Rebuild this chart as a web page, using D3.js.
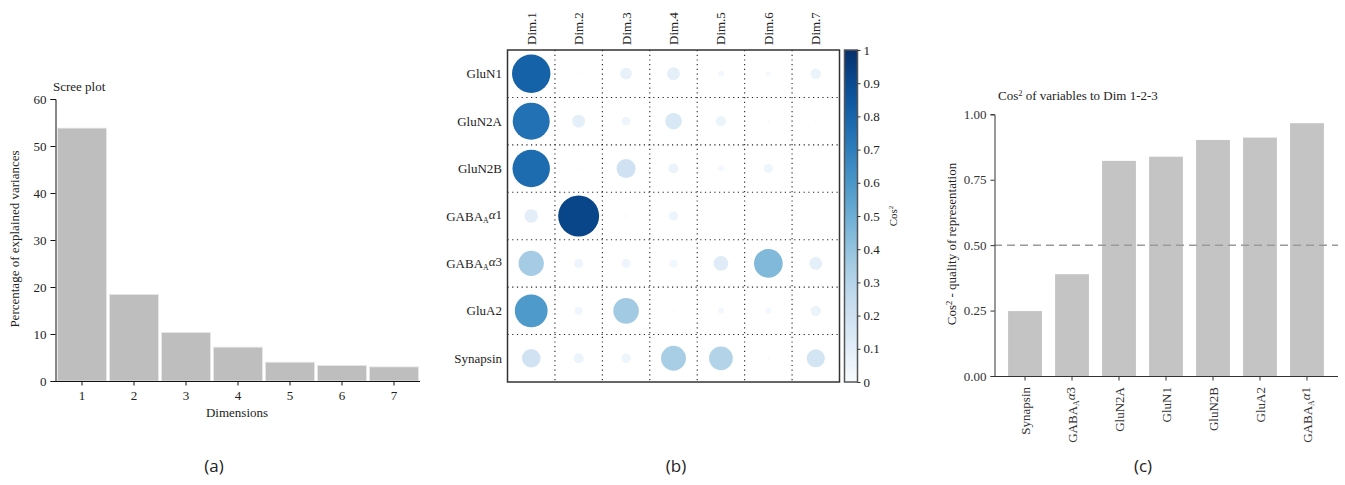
<!DOCTYPE html>
<html>
<head>
<meta charset="utf-8">
<script src="https://cdn.jsdelivr.net/npm/d3@7"></script>
<style>
    body { margin: 0; background: #fff; }
    svg text { font-family: "Liberation Serif", "DejaVu Serif", serif; }
    .panel-tag { font-family: "Open Sans", "Liberation Sans", sans-serif !important; }
</style>
</head>
<body>
<svg id="fig" width="1345" height="485"></svg>
<script>
// ---- data ----
const screeDims = ["1", "2", "3", "4", "5", "6", "7"];
const screeValues = [53.8, 18.4, 10.3, 7.2, 4.0, 3.3, 3.0];

const corrVars = ["GluN1", "GluN2A", "GluN2B", "GABAAα1", "GABAAα3", "GluA2", "Synapsin"];
const corrDims = ["Dim.1", "Dim.2", "Dim.3", "Dim.4", "Dim.5", "Dim.6", "Dim.7"];
const cos2GluN1 = [0.81, 0.003, 0.075, 0.09, 0.02, 0.014, 0.06];
const cos2GluN2A = [0.75, 0.09, 0.044, 0.15, 0.058, 0.003, 0.003];
const cos2GluN2B = [0.77, 0.003, 0.2, 0.055, 0.02, 0.047, 0.003];
const cos2GABAa1 = [0.1, 0.92, 0.005, 0.05, 0.003, 0.003, 0.003];
const cos2GABAa3 = [0.35, 0.047, 0.047, 0.035, 0.12, 0.45, 0.09];
const cos2GluA2 = [0.59, 0.038, 0.36, 0.003, 0.02, 0.02, 0.06];
const cos2Synapsin = [0.19, 0.055, 0.05, 0.34, 0.31, 0.005, 0.18];
const colorbarTicks = [0, 0.1, 0.2, 0.3, 0.4, 0.5, 0.6, 0.7, 0.8, 0.9, 1];

const qualityVars = ["Synapsin", "GABAAα3", "GluN2A", "GluN1", "GluN2B", "GluA2", "GABAAα1"];
const qualityValues = [0.248, 0.389, 0.822, 0.838, 0.902, 0.911, 0.966];
const qualityTicks = [0, 0.25, 0.5, 0.75, 1];

let svg = d3.select("#fig");

// writes "GABA_A α1" style names with a subscript A and italic alpha
function varLabel(sel, name) {
    if (name.startsWith("GABAA")) {
        sel.append("tspan").text("GABA");
        sel.append("tspan").attr("font-size", "0.6em").attr("dy", "0.3em").text("A");
        sel.append("tspan").attr("dy", "-0.3em").attr("font-style", "italic").text("α");
        sel.append("tspan").text(name.slice(6));
    } else {
        sel.text(name);
    }
}

// ================= (a) scree plot =================
let xa = d3.scaleBand().domain(screeDims).range([56, 420]).paddingInner(0.06).paddingOuter(0.03);
let ya = d3.scaleLinear().domain([0, 60]).range([381, 99]);
let ga = svg.append("g");

ga.selectAll("rect.scree")
    .data(screeValues)
    .enter().append("rect")
    .attr("class", "scree")
    .attr("x", (d, i) => xa(screeDims[i]))
    .attr("width", xa.bandwidth())
    .attr("y", d => ya(d))
    .attr("height", d => ya(0) - ya(d))
    .attr("fill", "#bebebe")
    .attr("stroke", "#e6e6e6")
    .attr("stroke-width", 0.8);

// y axis
ga.append("g")
    .attr("transform", "translate(55.5,0)")
    .call(d3.axisLeft(ya).tickValues([0, 10, 20, 30, 40, 50, 60]).tickSize(5).tickPadding(4))
    .call(g => g.selectAll("text").attr("font-size", 13).attr("fill", "#222").style("font-family", "Liberation Serif"))
    .call(g => g.selectAll("line, path").attr("stroke", "#111"));

// x axis
ga.append("g")
    .attr("transform", "translate(0,381.5)")
    .call(d3.axisBottom(xa).tickSizeOuter(0).tickSize(4).tickPadding(5))
    .call(g => g.select("path").attr("d", "M55.5,0H420"))
    .call(g => g.selectAll("text").attr("font-size", 13).attr("fill", "#222").style("font-family", "Liberation Serif"))
    .call(g => g.selectAll("line, path").attr("stroke", "#111"));

ga.append("text")
    .attr("x", 53).attr("y", 91)
    .attr("font-size", 13).attr("fill", "#222")
    .text("Scree plot");

ga.append("text")
    .attr("x", 237).attr("y", 417)
    .attr("text-anchor", "middle")
    .attr("font-size", 13).attr("fill", "#222")
    .text("Dimensions");

ga.append("text")
    .attr("transform", "translate(19,239) rotate(-90)")
    .attr("text-anchor", "middle")
    .attr("font-size", 13).attr("fill", "#222")
    .text("Percentage of explained variances");

// ================= (b) cos2 matrix =================
const cos2Rows = [cos2GluN1, cos2GluN2A, cos2GluN2B, cos2GABAa1, cos2GABAa3, cos2GluA2, cos2Synapsin];
let cells = [];
cos2Rows.forEach((row, i) => {
    row.forEach((v, j) => cells.push({ variable: corrVars[i], dim: corrDims[j], value: v }));
});

let xb = d3.scaleBand().domain(corrDims).range([507.5, 839.5]);
let yb = d3.scaleBand().domain(corrVars).range([50, 382]);
let rb = d3.scaleSqrt().domain([0, 1]).range([0, 0.45 * xb.bandwidth()]);
let colb = d3.scaleSequential(d3.interpolateBlues).domain([0, 1]);
let gb = svg.append("g");

// dotted grid
corrDims.slice(1).forEach(d => {
    gb.append("line")
        .attr("x1", xb(d)).attr("x2", xb(d))
        .attr("y1", 50).attr("y2", 382)
        .attr("stroke", "#222").attr("stroke-width", 1.1)
        .attr("stroke-dasharray", "1.2,3.5");
});
corrVars.slice(1).forEach(v => {
    gb.append("line")
        .attr("x1", 507.5).attr("x2", 839.5)
        .attr("y1", yb(v)).attr("y2", yb(v))
        .attr("stroke", "#222").attr("stroke-width", 1.1)
        .attr("stroke-dasharray", "1.2,3.5");
});

gb.selectAll("circle.cell")
    .data(cells)
    .enter().append("circle")
    .attr("class", "cell")
    .attr("cx", d => xb(d.dim) + xb.bandwidth() / 2)
    .attr("cy", d => yb(d.variable) + yb.bandwidth() / 2)
    .attr("r", d => rb(d.value))
    .attr("fill", d => colb(d.value));

gb.append("rect")
    .attr("x", 507.5).attr("y", 50)
    .attr("width", 332).attr("height", 332)
    .attr("fill", "none")
    .attr("stroke", "#333").attr("stroke-width", 1.5);

// row labels
corrVars.forEach(v => {
    gb.append("text")
        .attr("x", 502)
        .attr("y", yb(v) + yb.bandwidth() / 2)
        .attr("dy", "0.35em")
        .attr("text-anchor", "end")
        .attr("font-size", 13).attr("fill", "#222")
        .call(varLabel, v);
});

// column labels
corrDims.forEach(d => {
    gb.append("text")
        .attr("transform", `translate(${xb(d) + xb.bandwidth() / 2},45) rotate(-90)`)
        .attr("dy", "0.35em")
        .attr("font-size", 13).attr("fill", "#222")
        .text(d);
});

// colour bar
let defs = svg.append("defs");
let grad = defs.append("linearGradient")
    .attr("id", "cbar")
    .attr("x1", 0).attr("y1", 1).attr("x2", 0).attr("y2", 0);
d3.range(0, 1.0001, 0.05).forEach(t => {
    grad.append("stop").attr("offset", t).attr("stop-color", colb(t));
});

let yc = d3.scaleLinear().domain([0, 1]).range([382, 50]);
gb.append("rect")
    .attr("x", 844.5).attr("y", 50)
    .attr("width", 13).attr("height", 332)
    .attr("fill", "url(#cbar)")
    .attr("stroke", "#555").attr("stroke-width", 1.5);

gb.append("g")
    .attr("transform", "translate(857.5,0)")
    .call(d3.axisRight(yc).tickValues(colorbarTicks).tickFormat(d3.format("~g")).tickSize(3).tickPadding(3))
    .call(g => g.select("path").remove())
    .call(g => g.selectAll("line").attr("stroke", "#333"))
    .call(g => g.selectAll("text").attr("font-size", 13).attr("fill", "#222").style("font-family", "Liberation Serif"));

let cosLab = gb.append("text")
    .attr("transform", "translate(897,216) rotate(-90)")
    .attr("text-anchor", "middle")
    .attr("font-size", 11).attr("fill", "#222");
cosLab.append("tspan").text("Cos");
cosLab.append("tspan").attr("font-size", "0.65em").attr("dy", "-0.5em").text("2");

// ================= (c) quality bar chart =================
let xq = d3.scaleBand().domain(qualityVars).range([994, 1338]).paddingInner(0.28).paddingOuter(0.3);
let yq = d3.scaleLinear().domain([0, 1]).range([376, 114.3]);
let gc = svg.append("g");

gc.selectAll("rect.q")
    .data(qualityValues)
    .enter().append("rect")
    .attr("class", "q")
    .attr("x", (d, i) => xq(qualityVars[i]))
    .attr("width", xq.bandwidth())
    .attr("y", d => yq(d))
    .attr("height", d => yq(0) - yq(d))
    .attr("fill", "#c4c4c5");

gc.append("line")
    .attr("x1", 994).attr("x2", 1338)
    .attr("y1", yq(0.5)).attr("y2", yq(0.5))
    .attr("stroke", "#9a9a9a").attr("stroke-width", 1.5)
    .attr("stroke-dasharray", "8,5");

gc.append("g")
    .attr("transform", "translate(994.5,0)")
    .call(d3.axisLeft(yq).tickValues(qualityTicks).tickFormat(d3.format(".2f")).tickSize(4).tickPadding(4))
    .call(g => g.selectAll("line, path").attr("stroke", "#333"))
    .call(g => g.selectAll("text").attr("font-size", 13).attr("fill", "#333").style("font-family", "Liberation Serif"));

let xAxisC = gc.append("g")
    .attr("transform", "translate(0,376.5)")
    .call(d3.axisBottom(xq).tickSize(4).tickSizeOuter(0).tickFormat(""))
    .call(g => g.select("path").attr("d", "M994,0H1338"))
    .call(g => g.selectAll("line, path").attr("stroke", "#333"));

qualityVars.forEach(v => {
    gc.append("text")
        .attr("transform", `translate(${xq(v) + xq.bandwidth() / 2},387) rotate(-90)`)
        .attr("dy", "0.35em")
        .attr("text-anchor", "end")
        .attr("font-size", 13).attr("fill", "#333")
        .call(varLabel, v);
});

let tC = gc.append("text")
    .attr("x", 998).attr("y", 100)
    .attr("font-size", 13).attr("fill", "#222");
tC.append("tspan").text("Cos");
tC.append("tspan").attr("font-size", "0.65em").attr("dy", "-0.5em").text("2");
tC.append("tspan").attr("dy", "0.325em").text(" of variables to Dim 1-2-3");

let yLabC = gc.append("text")
    .attr("transform", "translate(956,244) rotate(-90)")
    .attr("text-anchor", "middle")
    .attr("font-size", 13).attr("fill", "#222");
yLabC.append("tspan").text("Cos");
yLabC.append("tspan").attr("font-size", "0.65em").attr("dy", "-0.5em").text("2");
yLabC.append("tspan").attr("dy", "0.325em").text(" - quality of representation");

// ================= panel tags =================
[["(a)", 214], ["(b)", 676], ["(c)", 1143]].forEach(p => {
    svg.append("text")
        .attr("class", "panel-tag")
        .attr("x", p[1]).attr("y", 472)
        .attr("text-anchor", "middle")
        .attr("font-size", 17).attr("fill", "#222")
        .text(p[0]);
});
</script>
</body>
</html>
